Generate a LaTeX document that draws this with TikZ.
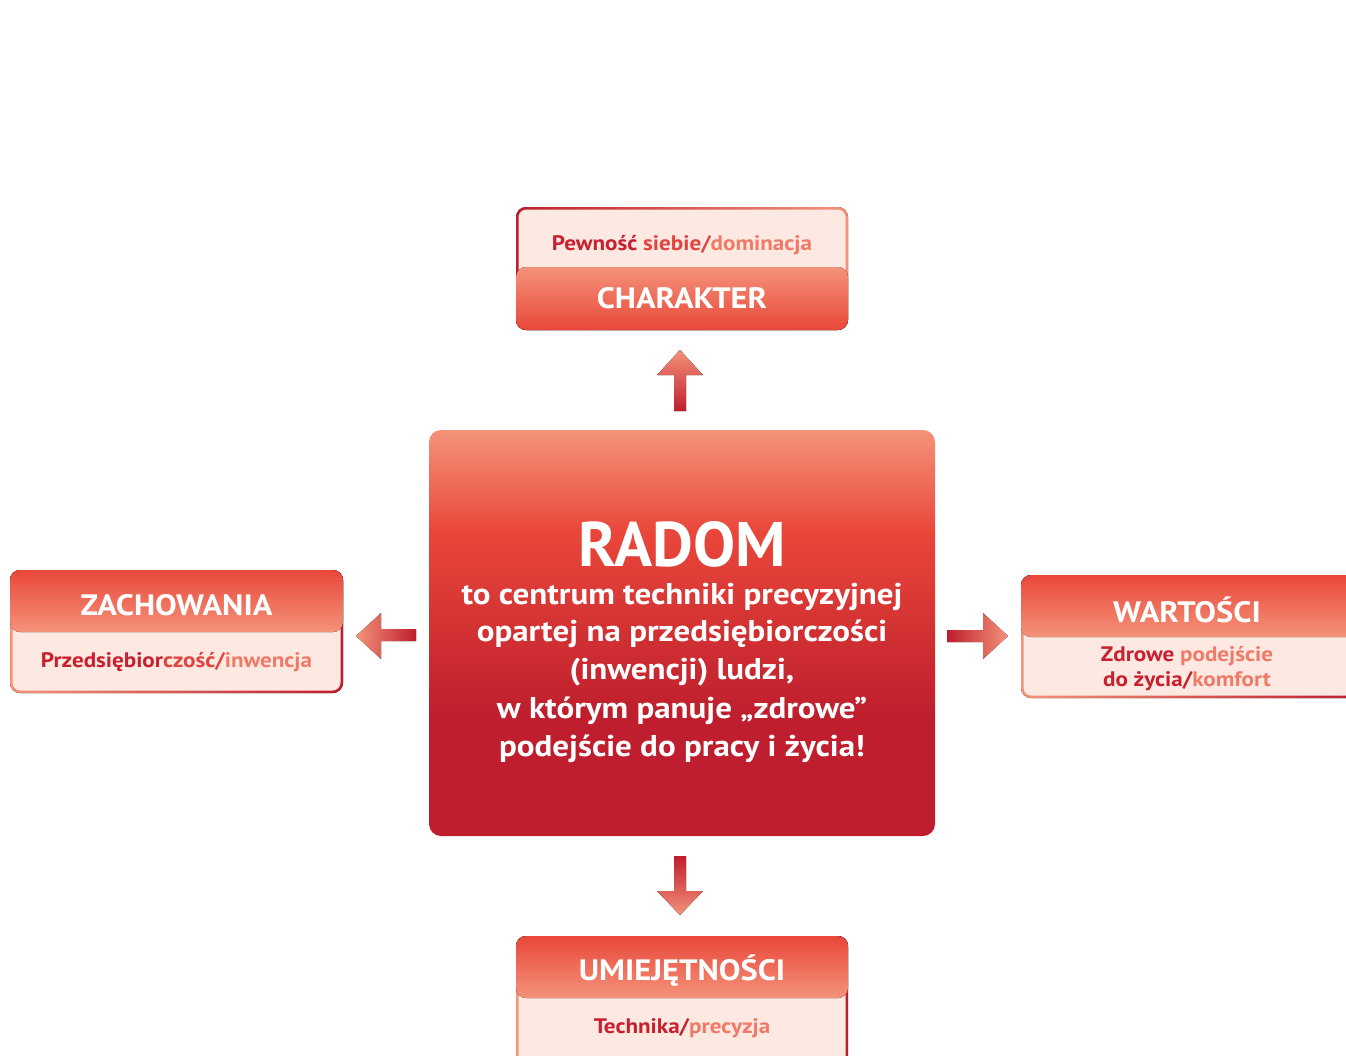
\documentclass[tikz,border=0pt]{standalone}
\usepackage{fontspec}
\setmainfont{PT Sans}[FakeStretch=1.1]
\newfontfamily\radomfont{PT Sans}
\definecolor{salmon}{HTML}{F4937A}
\definecolor{redm}{HTML}{E9473A}
\definecolor{darkr}{HTML}{BE1E2D}
\definecolor{pinkf}{HTML}{FDE9E1}
\definecolor{txd}{HTML}{C8202F}
\definecolor{txm}{HTML}{E0463F}
\definecolor{txl}{HTML}{F07A68}
\pgfdeclareverticalshading{centershade}{100bp}{color(0bp)=(darkr); color(25bp)=(darkr); color(39.5bp)=(darkr); color(62.5bp)=(redm); color(75bp)=(salmon); color(100bp)=(salmon)}
\tikzset{
  head/.style={font=\bfseries\fontsize{29.5}{31}\selectfont, text=white, inner sep=0pt},
  sub/.style={font=\bfseries\fontsize{21}{24}\selectfont, inner sep=0pt, align=center},
  ctr/.style={font=\bfseries\fontsize{30}{38}\selectfont, text=white, inner sep=0pt, align=center},
}
\begin{document}
\begin{tikzpicture}[x=1pt,y=-1pt]
\useasboundingbox (0,0) rectangle (1346,1055);
\clip (0,0) rectangle (1346,1055);
% centre
\node[shading=centershade, rounded corners=12, minimum width=506, minimum height=406, inner sep=0pt] (centre) at (682,633) {};
\node[font=\radomfont\bfseries\fontsize{63}{63}\selectfont, text=white, inner sep=0pt, anchor=base] (radom) at (682,566) {RADOM};
\node[ctr, anchor=base] (l1) at (682,604) {to centrum techniki precyzyjnej};
\node[ctr, anchor=base] (l2) at (682,641) {opartej na przedsiębiorczości};
\node[ctr, anchor=base] (l3) at (682,679) {(inwencji) ludzi,};
\node[ctr, anchor=base] (l4) at (682,718) {w którym panuje „zdrowe”};
\node[ctr, anchor=base] (l5) at (682,756) {podejście do pracy i życia!};
% top box
\fill[left color=darkr, right color=salmon, rounded corners=10] (516,207) rectangle (848,330);
\fill[pinkf, rounded corners=8] (518.5,209.5) rectangle (845.5,327.5);
\fill[top color=salmon, bottom color=redm, rounded corners=10] (516,267) rectangle (848,330);
\node[head] (charakter) at (682,298) {CHARAKTER};
\node[sub] (pewnosc) at (682,245) {\textcolor{txd}{Pewność} \textcolor{txm}{siebie/}\textcolor{txl}{dominacja}};
% left box
\fill[left color=salmon, right color=darkr, rounded corners=10] (10,570) rectangle (343,693);
\fill[pinkf, rounded corners=8] (12.5,572.5) rectangle (340.5,690.5);
\fill[top color=redm, bottom color=salmon, rounded corners=10] (10,570) rectangle (343,632);
\node[head] (zach) at (176.5,605) {ZACHOWANIA};
\node[sub] (przed) at (176.5,662) {\textcolor{txd}{Przedsiębior}\textcolor{txm}{czość/}\textcolor{txl}{inwencja}};
% right box
\fill[left color=salmon, right color=darkr, rounded corners=10] (1021,575) rectangle (1356,698);
\fill[pinkf, rounded corners=8] (1023.5,577.5) rectangle (1353.5,695.5);
\fill[top color=redm, bottom color=salmon, rounded corners=10] (1021,575) rectangle (1356,637);
\node[head] (wart) at (1187,610) {WARTOŚCI};
\node[sub, font=\bfseries\fontsize{21}{25}\selectfont] (zdrowe) at (1187,669) {\textcolor{txd}{Zdrowe} \textcolor{txl}{podejście}\\\textcolor{txd}{do życia/}\textcolor{txl}{komfort}};
% bottom box
\fill[left color=salmon, right color=darkr, rounded corners=10] (516,936) rectangle (848,1066);
\fill[pinkf, rounded corners=8] (518.5,938.5) rectangle (845.5,1063.5);
\fill[top color=redm, bottom color=salmon, rounded corners=10] (516,936) rectangle (848,998);
\node[head] (umie) at (682,971) {UMIEJĘTNOŚCI};
\node[sub] (tech) at (682,1028) {\textcolor{txd}{Technika/}\textcolor{txl}{precyzja}};
% arrows
\fill[top color=salmon, bottom color=darkr] (674,411)--(674,375)--(657,375)--(680,350)--(703,375)--(686,375)--(686,411)--cycle;
\fill[top color=darkr, bottom color=salmon] (674,856)--(674,891)--(657,891)--(680,915)--(703,891)--(686,891)--(686,856)--cycle;
\fill[left color=salmon, right color=darkr] (416,629)--(381,629)--(381,613)--(356,636)--(381,659)--(381,641)--(416,641)--cycle;
\fill[left color=darkr, right color=salmon] (947,630)--(983,630)--(983,613)--(1008,636)--(983,659)--(983,642)--(947,642)--cycle;
\end{tikzpicture}
\end{document}
